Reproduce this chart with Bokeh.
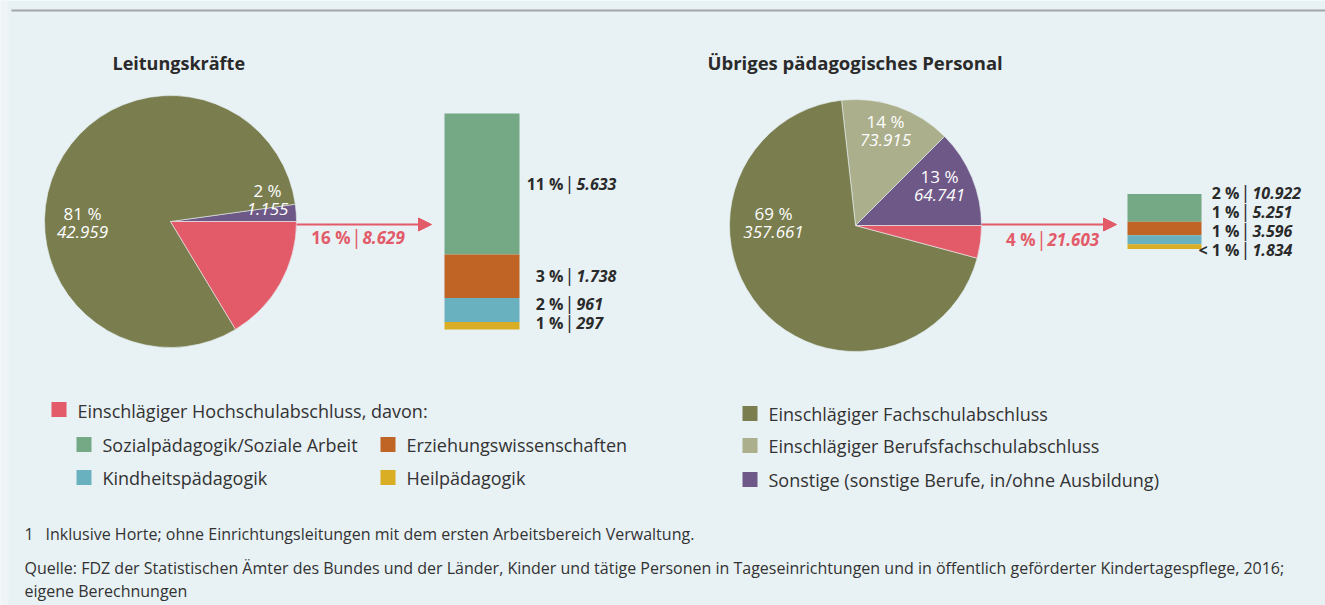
import math
from bokeh.plotting import figure
from bokeh.models import Range1d, Arrow, NormalHead
from bokeh.core.properties import value
from bokeh.embed import file_html
from bokeh.resources import INLINE

# ---------------- data ----------------
pie_titles = ["Leitungskräfte", "Übriges pädagogisches Personal"]
main_categories = ["Sonstige (sonstige Berufe, in/ohne Ausbildung)",
                   "Einschlägiger Berufsfachschulabschluss",
                   "Einschlägiger Fachschulabschluss",
                   "Einschlägiger Hochschulabschluss, davon:"]
lead_values = [1155, 0, 42959, 8629]
lead_pct = ["2 %", "", "81 %", "16 %"]
other_values = [64741, 73915, 357661, 21603]
other_pct = ["13 %", "14 %", "69 %", "4 %"]

sub_categories = ["Sozialpädagogik/Soziale Arbeit", "Erziehungswissenschaften",
                  "Kindheitspädagogik", "Heilpädagogik"]
lead_sub_values = [5633, 1738, 961, 297]
lead_sub_pct = ["11 %", "3 %", "2 %", "1 %"]
other_sub_values = [10922, 5251, 3596, 1834]
other_sub_pct = ["2 %", "1 %", "1 %", "< 1 %"]

footnote_1 = "Inklusive Horte; ohne Einrichtungsleitungen mit dem ersten Arbeitsbereich Verwaltung."
source_lines = ["Quelle: FDZ der Statistischen Ämter des Bundes und der Länder, Kinder und tätige Personen in Tageseinrichtungen und in öffentlich geförderter Kindertagespflege, 2016;",
                "eigene Berechnungen"]

# ---------------- style ----------------
FONT = "Open Sans"
BG = "#e8f1f4"
MAIN_COLORS = ["#6e5887", "#abaf8c", "#7a7e4f", "#e35a69"]
SUB_COLORS = ["#75a884", "#c06425", "#69b1be", "#d9ad24"]
PINK = "#e35a69"
DARK = "#2a2a2a"
TXT = "#333333"

W, H = 1325, 605
def X(sx): return sx
def Y(sy): return H - sy

def de(n):
    return format(n, ",").replace(",", ".")

p = figure(width=W, height=H, output_backend="svg", toolbar_location=None,
           x_range=Range1d(0, W), y_range=Range1d(0, H), min_border=0)
p.axis.visible = False
p.grid.visible = False
p.outline_line_color = None
p.background_fill_color = BG
p.border_fill_color = BG

# light page strip on the left and top rule
p.quad(left=[0], right=[8], bottom=[0], top=[H], fill_color="#eff5f7", line_color=None)
p.segment(x0=[X(11)], y0=[Y(10)], x1=[W], y1=[Y(10)], line_color="#a3a6a9", line_width=2)

def txt(sx, sy, s, size, color=DARK, style="normal", align="left"):
    p.text(x=[X(sx)], y=[Y(sy)], text=[s], text_font=value(FONT), text_font_size=size,
           text_font_style=style, text_color=color, text_align=align, text_baseline="middle")

# ---- pies ----
pies = [
    dict(values=lead_values, pct=lead_pct, cx=170, cy=221, r=126, title_x=112,
         labels={2: (-88, 1), 0: (97, -22)}, arrow_y=224, arrow_end=431,
         lab_sep=356, lab_y=237,
         sub=lead_sub_values, sub_pct=lead_sub_pct, bar_x=481.5, bar_w=75, bar_c=221, sep_x=569),
    dict(values=other_values, pct=other_pct, cx=855, cy=225, r=126, title_x=707,
         labels={2: (-82, -3), 1: (30, -95), 0: (84, -40)}, arrow_y=224, arrow_end=1116,
         lab_sep=1041, lab_y=239,
         sub=other_sub_values, sub_pct=other_sub_pct, bar_x=1164, bar_w=74, bar_c=221, sep_x=1245),
]
K = 13.2  # px per percent for the detail bars
TITLE_SIZES = ["18px", "18.5px"]

for pie, title, tsz in zip(pies, pie_titles, TITLE_SIZES):
    txt(pie["title_x"], 62, title, tsz, color=DARK, style="bold")
    vals = pie["values"]
    total = sum(vals)
    a = 0.0
    starts, ends, cols = [], [], []
    for v, c in zip(vals, MAIN_COLORS):
        if v == 0:
            continue
        da = 2 * math.pi * v / total
        starts.append(a); ends.append(a + da); cols.append(c)
        a += da
    n = len(starts)
    p.wedge(x=[X(pie["cx"])] * n, y=[Y(pie["cy"])] * n, radius=pie["r"],
            start_angle=starts, end_angle=ends, fill_color=cols,
            line_color=BG, line_width=0.6)
    # labels in slices
    for i, (dx, dy) in pie["labels"].items():
        sx, sy = pie["cx"] + dx, pie["cy"] + dy
        txt(sx, sy - 9, pie["pct"][i], "17px", color="white", align="center")
        txt(sx, sy + 9.5, de(vals[i]), "17px", color="white", style="italic", align="center")
    # arrow
    p.add_layout(Arrow(end=NormalHead(size=13, fill_color=PINK, line_color=PINK, line_width=1),
                       x_start=X(pie["cx"] + pie["r"]), y_start=Y(pie["arrow_y"]),
                       x_end=X(pie["arrow_end"]), y_end=Y(pie["arrow_y"]),
                       line_color=PINK, line_width=2))
    sep = pie["lab_sep"]
    txt(sep - 6, pie["lab_y"], pie["pct"][3], "17px", color=PINK, style="bold", align="right")
    txt(sep, pie["lab_y"] - 1, "|", "20px", color=PINK, align="center")
    txt(sep + 6, pie["lab_y"], de(vals[3]), "17px", color=PINK, style="bold italic", align="left")

    # detail bar
    sub = pie["sub"]
    heights = [v / total * 100 * K for v in sub]
    htot = sum(heights)
    top = pie["bar_c"] - htot / 2
    segs = []
    y0 = top
    for h in heights:
        segs.append((y0, y0 + h))
        y0 += h
    p.vbar(x=[X(pie["bar_x"])] * 4, width=pie["bar_w"],
           top=[Y(s[0]) for s in segs], bottom=[Y(s[1]) for s in segs],
           fill_color=SUB_COLORS, line_color=None)
    # label placement: merge colliding labels into groups centred on their segments
    gap = 19
    groups = [[i] for i in range(4)]
    def gcenter(g):
        return (segs[g[0]][0] + segs[g[-1]][1]) / 2
    def gpos(g):
        c = gcenter(g)
        return [c + (k - (len(g) - 1) / 2) * gap for k in range(len(g))]
    changed = True
    while changed:
        changed = False
        for j in range(len(groups) - 1):
            a_ = gpos(groups[j]); b_ = gpos(groups[j + 1])
            if b_[0] - a_[-1] < gap:
                groups[j] = groups[j] + groups[j + 1]
                del groups[j + 1]
                changed = True
                break
    ly = []
    for g in groups:
        ly += gpos(g)
    sx = pie["sep_x"]
    for i in range(4):
        txt(sx - 6, ly[i], pie["sub_pct"][i], "16px", color=DARK, style="bold", align="right")
        txt(sx, ly[i] - 1, "|", "19px", color=DARK, align="center")
        txt(sx + 7, ly[i], de(sub[i]), "16px", color=DARK, style="bold italic", align="left")

# ---- legends ----
def sq(sx, sy, c):
    p.rect(x=[X(sx + 7.5)], y=[Y(sy)], width=15, height=15, fill_color=c, line_color=None)

LEG = "18px"
sq(51, 409, MAIN_COLORS[3]); txt(77, 410, main_categories[3], LEG, color=TXT)
grid_pos = [(76, 444), (380, 444), (76, 477), (380, 477)]
for (gx, gy), name, c in zip(grid_pos, sub_categories, SUB_COLORS):
    sq(gx, gy, c)
    txt(gx + 26, gy, name, LEG, color=TXT)

right_leg = [(2, 413), (1, 445), (0, 479)]
for idx, gy in right_leg:
    sq(742, gy, MAIN_COLORS[idx])
    txt(768, gy, main_categories[idx], LEG, color=TXT)

# ---- footnotes ----
FN = "16px"
txt(24, 533, "1", FN, color=TXT)
txt(45, 533, footnote_1, FN, color=TXT)
txt(24, 567, source_lines[0], FN, color=TXT)
txt(24, 590, source_lines[1], FN, color=TXT)

open("out.html", "w").write(file_html(p, INLINE))
